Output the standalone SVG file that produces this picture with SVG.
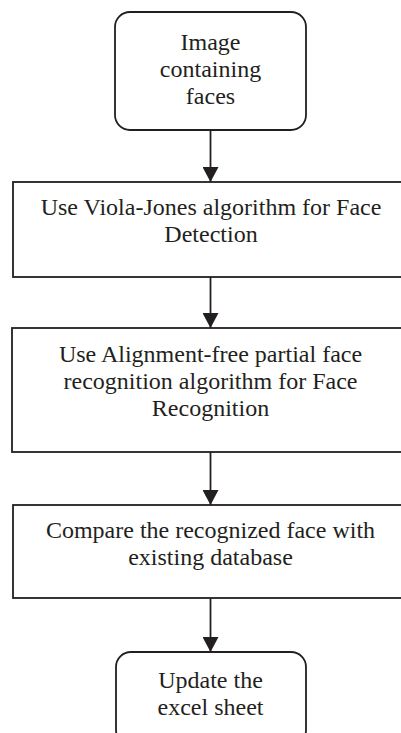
<svg xmlns="http://www.w3.org/2000/svg" width="401" height="733" viewBox="0 0 401 733">
<style>
.box{fill:#fff;stroke:#231f20;stroke-width:1.8}
.t{font-family:"Liberation Serif","Times New Roman",serif;font-size:24px;fill:#231f20;text-anchor:middle}
.c{stroke:#231f20;stroke-width:1.8;fill:none}
</style>
<defs>
<marker id="ah" markerUnits="userSpaceOnUse" markerWidth="16" markerHeight="16" viewBox="0 0 16 16" refX="15" refY="8" orient="auto">
<path d="M0,0 L15,8 L0,16 Z" fill="#231f20"/>
</marker>
</defs>
<rect width="401" height="733" fill="#fff"/>
<g id="connectors">
<line class="c" x1="210.5" y1="130" x2="210.5" y2="182" marker-end="url(#ah)"/>
<line class="c" x1="210.5" y1="277" x2="210.5" y2="328" marker-end="url(#ah)"/>
<line class="c" x1="210.5" y1="452" x2="210.5" y2="505" marker-end="url(#ah)"/>
<line class="c" x1="210.5" y1="598" x2="210.5" y2="652" marker-end="url(#ah)"/>
</g>
<g id="n1">
<rect class="box" x="115" y="12" width="191" height="118" rx="15"/>
<text class="t" x="210.5" y="50">Image</text>
<text class="t" x="210.5" y="77">containing</text>
<text class="t" x="210.5" y="104">faces</text>
</g>
<g id="n2">
<rect class="box" x="13" y="182" width="395" height="95"/>
<text class="t" x="211" y="215">Use Viola-Jones algorithm for Face</text>
<text class="t" x="211" y="242">Detection</text>
</g>
<g id="n3">
<rect class="box" x="12" y="328" width="396" height="124"/>
<text class="t" x="210.5" y="362">Use Alignment-free partial face</text>
<text class="t" x="210.5" y="389">recognition algorithm for Face</text>
<text class="t" x="210.5" y="416">Recognition</text>
</g>
<g id="n4">
<rect class="box" x="13" y="505" width="395" height="93"/>
<text class="t" x="210.5" y="538">Compare the recognized face with</text>
<text class="t" x="210.5" y="565">existing database</text>
</g>
<g id="n5">
<rect class="box" x="116" y="652" width="190" height="93" rx="15"/>
<text class="t" x="210.5" y="688">Update the</text>
<text class="t" x="210.5" y="715">excel sheet</text>
</g>
</svg>
